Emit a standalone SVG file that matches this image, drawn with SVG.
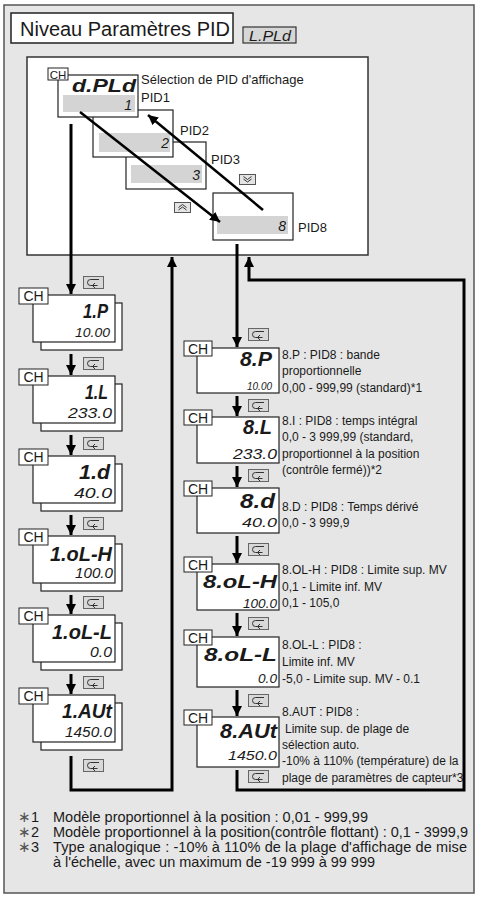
<svg xmlns="http://www.w3.org/2000/svg" xmlns:xlink="http://www.w3.org/1999/xlink" width="478" height="898" viewBox="0 0 478 898">
<defs>
<style>
text{font-family:"Liberation Sans",Arial,sans-serif;fill:#1a1a1a}
.box{fill:#fff;stroke:#222;stroke-width:1.2}
.lcd{fill:#d4d4d4}
.ch{font-size:14px}
.chs{font-size:11.5px}
.seg{font-style:italic;font-weight:bold}
.val{font-style:italic}
.lbl{font-size:13px}
.rt{font-size:12px}
.fn{font-size:14.5px}
.conn{fill:none;stroke:#000;stroke-width:3}
.diag{fill:none;stroke:#000;stroke-width:2.5}
</style>
<marker id="ah" markerUnits="userSpaceOnUse" markerWidth="10" markerHeight="10" refX="10" refY="5" orient="auto" viewBox="0 0 10 10">
<path d="M0,0 L10,5 L0,10 z" fill="#000"/>
</marker>
<symbol id="ret" viewBox="0 0 21 13">
<rect x="0.5" y="0.5" width="20" height="12" fill="#d8d8d8" stroke="#666"/>
<path d="M16,3.5 H7.5 A3,3 0 0 0 7.5,9.5 H14.5 M12,7 L9.5,9.5 L12,12" fill="none" stroke="#333" stroke-width="1"/>
</symbol>
<symbol id="dn" viewBox="0 0 17 11">
<rect x="0.5" y="0.5" width="16" height="10" fill="#e4e4e4" stroke="#555"/>
<path d="M4.5,2.5 L8.5,5.5 L12.5,2.5 M4.5,5 L8.5,8 L12.5,5" fill="none" stroke="#333" stroke-width="1"/>
</symbol>
<symbol id="up" viewBox="0 0 17 11">
<rect x="0.5" y="0.5" width="16" height="10" fill="#e4e4e4" stroke="#555"/>
<path d="M4.5,5.5 L8.5,2.5 L12.5,5.5 M4.5,8 L8.5,5 L12.5,8" fill="none" stroke="#333" stroke-width="1"/>
</symbol>
</defs>

<rect x="4" y="5" width="470" height="888" fill="#e6e6e6" stroke="#555" stroke-width="1.5"/>

<g id="title">
<rect x="11" y="13" width="222" height="30" fill="#fff" stroke="#222" stroke-width="1.5"/>
<text x="20" y="36" font-size="20" textLength="210">Niveau Paramètres PID</text>
<rect x="243" y="27" width="53" height="16" fill="#d6d6d6" stroke="#333" stroke-width="1.2"/>
<text x="249" y="41" font-size="14" class="val" textLength="42" lengthAdjust="spacingAndGlyphs">L.PLd</text>
</g>

<g id="pid-panel">
<rect x="27" y="57" width="341" height="198" fill="#fff" stroke="#333" stroke-width="1.5"/>
</g>

<g id="pid3">
<rect class="box" x="126" y="142" width="80" height="47"/>
<rect class="lcd" x="131" y="165" width="71" height="18"/>
<text class="val" x="200" y="180" font-size="14" text-anchor="end">3</text>
<text class="lbl" x="211" y="164">PID3</text>
</g>
<g id="pid2">
<rect class="box" x="93" y="110" width="80" height="47"/>
<rect class="lcd" x="99" y="133" width="71" height="19"/>
<text class="val" x="169" y="148" font-size="14" text-anchor="end">2</text>
<text class="lbl" x="180" y="135">PID2</text>
</g>
<g id="pid1">
<rect class="box" x="58" y="75" width="80" height="42"/>
<rect class="lcd" x="63" y="95" width="72" height="17"/>
<text class="seg" x="72" y="92" font-size="19" textLength="64" lengthAdjust="spacingAndGlyphs">d.PLd</text>
<text class="val" x="132" y="110" font-size="14" text-anchor="end">1</text>
<rect x="48" y="68" width="20" height="12" fill="#fff" stroke="#222" stroke-width="1"/>
<text class="chs" x="58" y="78.5" text-anchor="middle">CH</text>
<text class="lbl" x="141" y="84">Sélection de PID d'affichage</text>
<text class="lbl" x="141" y="102">PID1</text>
</g>
<g id="pid8">
<rect class="box" x="213" y="193" width="80" height="47"/>
<rect class="lcd" x="217" y="216" width="71" height="18"/>
<text class="val" x="286" y="231" font-size="14" text-anchor="end">8</text>
<text class="lbl" x="298" y="232">PID8</text>
</g>
<g id="keys-top">
<use xlink:href="#dn" x="239" y="174" width="17" height="11"/>
<use xlink:href="#up" x="174" y="202" width="17" height="11"/>
</g>

<!-- left column -->
<g id="n-1P">
<rect class="box" x="41" y="303" width="81" height="47"/>
<rect class="box" x="33" y="295" width="82" height="47"/>
<rect x="19" y="288" width="29" height="16" fill="#fff" stroke="#222"/>
<text class="ch" x="33.5" y="301" text-anchor="middle">CH</text>
<text class="seg" x="83" y="318" font-size="21" textLength="25" lengthAdjust="spacingAndGlyphs">1.P</text>
<text class="val" x="75" y="337" font-size="13" textLength="35" lengthAdjust="spacingAndGlyphs">10.00</text>
</g>
<g id="n-1I">
<rect class="box" x="41" y="384" width="81" height="47"/>
<rect class="box" x="33" y="376" width="82" height="47"/>
<rect x="19" y="369" width="29" height="16" fill="#fff" stroke="#222"/>
<text class="ch" x="33.5" y="382" text-anchor="middle">CH</text>
<text class="seg" x="85" y="399" font-size="21" textLength="23" lengthAdjust="spacingAndGlyphs">1.L</text>
<text class="val" x="68" y="418" font-size="14" textLength="44" lengthAdjust="spacingAndGlyphs">233.0</text>
</g>
<g id="n-1d">
<rect class="box" x="41" y="464" width="81" height="47"/>
<rect class="box" x="33" y="456" width="82" height="47"/>
<rect x="19" y="449" width="29" height="16" fill="#fff" stroke="#222"/>
<text class="ch" x="33.5" y="462" text-anchor="middle">CH</text>
<text class="seg" x="79" y="479" font-size="21" textLength="31" lengthAdjust="spacingAndGlyphs">1.d</text>
<text class="val" x="74" y="498" font-size="14" textLength="38" lengthAdjust="spacingAndGlyphs">40.0</text>
</g>
<g id="n-1oLH">
<rect class="box" x="41" y="544" width="81" height="47"/>
<rect class="box" x="33" y="536" width="82" height="47"/>
<rect x="19" y="529" width="29" height="16" fill="#fff" stroke="#222"/>
<text class="ch" x="33.5" y="542" text-anchor="middle">CH</text>
<text class="seg" x="50" y="561" font-size="20" textLength="62" lengthAdjust="spacingAndGlyphs">1.oL-H</text>
<text class="val" x="75" y="578" font-size="14" textLength="38" lengthAdjust="spacingAndGlyphs">100.0</text>
</g>
<g id="n-1oLL">
<rect class="box" x="41" y="623" width="81" height="47"/>
<rect class="box" x="33" y="615" width="82" height="47"/>
<rect x="19" y="608" width="29" height="16" fill="#fff" stroke="#222"/>
<text class="ch" x="33.5" y="621" text-anchor="middle">CH</text>
<text class="seg" x="52" y="639" font-size="20" textLength="60" lengthAdjust="spacingAndGlyphs">1.oL-L</text>
<text class="val" x="90" y="657" font-size="14" textLength="22" lengthAdjust="spacingAndGlyphs">0.0</text>
</g>
<g id="n-1AUt">
<rect class="box" x="41" y="703" width="81" height="47"/>
<rect class="box" x="33" y="695" width="82" height="47"/>
<rect x="19" y="688" width="29" height="16" fill="#fff" stroke="#222"/>
<text class="ch" x="33.5" y="701" text-anchor="middle">CH</text>
<text class="seg" x="62" y="718" font-size="21" textLength="50" lengthAdjust="spacingAndGlyphs">1.AUt</text>
<text class="val" x="65" y="737" font-size="14" textLength="47" lengthAdjust="spacingAndGlyphs">1450.0</text>
</g>

<!-- right column -->
<g id="n-8P">
<rect class="box" x="197" y="348" width="82" height="45"/>
<rect x="184" y="341" width="28" height="15" fill="#fff" stroke="#222"/>
<text class="ch" x="198" y="353.5" text-anchor="middle">CH</text>
<text class="seg" x="240" y="366" font-size="20" textLength="32" lengthAdjust="spacingAndGlyphs">8.P</text>
<text class="val" x="247" y="390" font-size="11" textLength="25" lengthAdjust="spacingAndGlyphs">10.00</text>
<text class="rt" x="282" y="359">8.P : PID8 : bande</text>
<text class="rt" x="282" y="375">proportionnelle</text>
<text class="rt" x="282" y="392">0,00 - 999,99 (standard)*1</text>
</g>
<g id="n-8I">
<rect class="box" x="197" y="417" width="82" height="46"/>
<rect x="184" y="410" width="28" height="15" fill="#fff" stroke="#222"/>
<text class="ch" x="198" y="422.5" text-anchor="middle">CH</text>
<text class="seg" x="243" y="434" font-size="20" textLength="29" lengthAdjust="spacingAndGlyphs">8.L</text>
<text class="val" x="233" y="459" font-size="14" textLength="44" lengthAdjust="spacingAndGlyphs">233.0</text>
<text class="rt" x="282" y="425">8.I : PID8 : temps intégral</text>
<text class="rt" x="282" y="441">0,0 - 3 999,99 (standard,</text>
<text class="rt" x="282" y="458">proportionnel à la position</text>
<text class="rt" x="282" y="474">(contrôle fermé))*2</text>
</g>
<g id="n-8d">
<rect class="box" x="197" y="488" width="82" height="45"/>
<rect x="184" y="481" width="28" height="15" fill="#fff" stroke="#222"/>
<text class="ch" x="198" y="493.5" text-anchor="middle">CH</text>
<text class="seg" x="240" y="508" font-size="20" textLength="35" lengthAdjust="spacingAndGlyphs">8.d</text>
<text class="val" x="242" y="527" font-size="12" textLength="35" lengthAdjust="spacingAndGlyphs">40.0</text>
<text class="rt" x="282" y="511">8.D : PID8 : Temps dérivé</text>
<text class="rt" x="282" y="527">0,0 - 3 999,9</text>
</g>
<g id="n-8oLH">
<rect class="box" x="197" y="564" width="82" height="46"/>
<rect x="184" y="557" width="28" height="15" fill="#fff" stroke="#222"/>
<text class="ch" x="198" y="569.5" text-anchor="middle">CH</text>
<text class="seg" x="203" y="588" font-size="19" textLength="74" lengthAdjust="spacingAndGlyphs">8.oL-H</text>
<text class="val" x="243" y="608" font-size="12" textLength="34" lengthAdjust="spacingAndGlyphs">100.0</text>
<text class="rt" x="282" y="574">8.OL-H : PID8 : Limite sup. MV</text>
<text class="rt" x="282" y="591">0,1 - Limite inf. MV</text>
<text class="rt" x="282" y="607">0,1 - 105,0</text>
</g>
<g id="n-8oLL">
<rect class="box" x="197" y="637" width="82" height="50"/>
<rect x="184" y="630" width="28" height="15" fill="#fff" stroke="#222"/>
<text class="ch" x="198" y="642.5" text-anchor="middle">CH</text>
<text class="seg" x="204" y="661" font-size="19" textLength="73" lengthAdjust="spacingAndGlyphs">8.oL-L</text>
<text class="val" x="258" y="683" font-size="12" textLength="19" lengthAdjust="spacingAndGlyphs">0.0</text>
<text class="rt" x="282" y="649">8.OL-L : PID8 :</text>
<text class="rt" x="282" y="666">Limite inf. MV</text>
<text class="rt" x="282" y="683">-5,0 - Limite sup. MV - 0.1</text>
</g>
<g id="n-8AUt">
<rect class="box" x="197" y="717" width="82" height="50"/>
<rect x="184" y="710" width="28" height="15" fill="#fff" stroke="#222"/>
<text class="ch" x="198" y="722.5" text-anchor="middle">CH</text>
<text class="seg" x="220" y="738" font-size="20" textLength="57" lengthAdjust="spacingAndGlyphs">8.AUt</text>
<text class="val" x="228" y="760" font-size="13" textLength="49" lengthAdjust="spacingAndGlyphs">1450.0</text>
<text class="rt" x="282" y="716">8.AUT : PID8 :</text>
<text class="rt" x="285" y="733">Limite sup. de plage de</text>
<text class="rt" x="282" y="749">sélection auto.</text>
<text class="rt" x="282" y="765">-10% à 110% (température) de la</text>
<text class="rt" x="282" y="782">plage de paramètres de capteur*3</text>
</g>

<g id="connectors">
<path class="diag" d="M80,112 L220,222" marker-end="url(#ah)"/>
<path class="diag" d="M263,210 L148,115" marker-end="url(#ah)"/>
<path class="conn" d="M71,124 V294" marker-end="url(#ah)"/>
<path class="conn" d="M71,354 V375" marker-end="url(#ah)"/>
<path class="conn" d="M71,435 V455" marker-end="url(#ah)"/>
<path class="conn" d="M71,515 V535" marker-end="url(#ah)"/>
<path class="conn" d="M71,595 V614" marker-end="url(#ah)"/>
<path class="conn" d="M71,674 V694" marker-end="url(#ah)"/>
<path class="conn" d="M71,756 V790 H172 V257" marker-end="url(#ah)"/>
<path class="conn" d="M237,244 V347" marker-end="url(#ah)"/>
<path class="conn" d="M237,396 V416" marker-end="url(#ah)"/>
<path class="conn" d="M237,466 V487" marker-end="url(#ah)"/>
<path class="conn" d="M237,536 V563" marker-end="url(#ah)"/>
<path class="conn" d="M237,613 V636" marker-end="url(#ah)"/>
<path class="conn" d="M237,690 V716" marker-end="url(#ah)"/>
<path class="conn" d="M237,770 V790 H464 V280 H249 V257" marker-end="url(#ah)"/>
</g>

<g id="keys">
<use xlink:href="#ret" x="83" y="276" width="21" height="13"/>
<use xlink:href="#ret" x="83" y="357" width="21" height="13"/>
<use xlink:href="#ret" x="83" y="437" width="21" height="13"/>
<use xlink:href="#ret" x="83" y="517" width="21" height="13"/>
<use xlink:href="#ret" x="83" y="596" width="21" height="13"/>
<use xlink:href="#ret" x="83" y="676" width="21" height="13"/>
<use xlink:href="#ret" x="83" y="759" width="21" height="13"/>
<use xlink:href="#ret" x="248" y="328" width="21" height="13"/>
<use xlink:href="#ret" x="248" y="399" width="21" height="13"/>
<use xlink:href="#ret" x="248" y="469" width="21" height="13"/>
<use xlink:href="#ret" x="248" y="543" width="21" height="13"/>
<use xlink:href="#ret" x="248" y="617" width="21" height="13"/>
<use xlink:href="#ret" x="248" y="694" width="21" height="13"/>
<use xlink:href="#ret" x="248" y="770" width="21" height="13"/>
</g>

<g id="footnotes">
<text class="fn" x="18" y="822"><tspan fill="#555">∗</tspan>1</text>
<text class="fn" x="53" y="822" textLength="315">Modèle proportionnel à la position : 0,01 - 999,99</text>
<text class="fn" x="18" y="837"><tspan fill="#555">∗</tspan>2</text>
<text class="fn" x="53" y="837" textLength="415">Modèle proportionnel à la position(contrôle flottant) : 0,1 - 3999,9</text>
<text class="fn" x="18" y="852"><tspan fill="#555">∗</tspan>3</text>
<text class="fn" x="53" y="852" textLength="414">Type analogique : -10% à 110% de la plage d'affichage de mise</text>
<text class="fn" x="53" y="867" textLength="322">à l'échelle, avec un maximum de -19 999 à 99 999</text>
</g>
</svg>
